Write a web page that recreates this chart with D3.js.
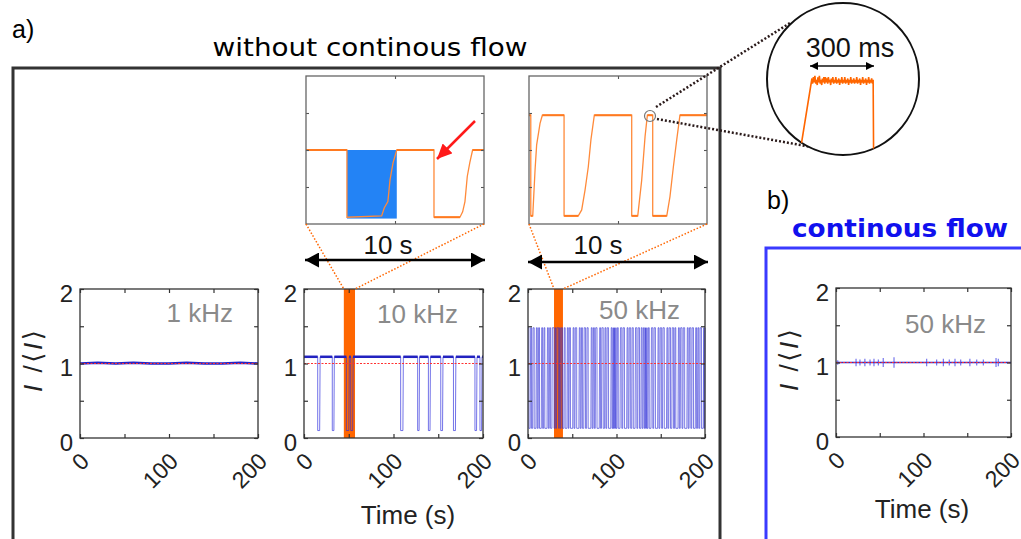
<!DOCTYPE html>
<html><head><meta charset="utf-8">
<script src="https://cdn.jsdelivr.net/npm/d3@7"></script>
<style>
body{margin:0;background:#fff}
svg{display:block}
text{font-family:"Liberation Sans",Arial,sans-serif}
</style>
</head><body>
<svg id="c" width="1021" height="539"></svg>
<script>
// ---------------- data ----------------
const timeTicks = [0, 50, 100, 150, 200];
const timeLabels = [0, 100, 200];
const yTicks = [0, 0.5, 1, 1.5, 2];
const yLabels = [0, 1, 2];
const panelNames = ["1 kHz", "10 kHz", "50 kHz", "50 kHz"];
const meanLevel = [1.0];

const trace1k = [[0,1.0],[20,1.01],[40,1.0],[60,1.01],[80,1.0],[100,1.0],[120,1.01],[140,1.0],[160,1.0],[180,1.01],[200,1.0]];

const levels10 = [0.1, 1.09];
const dips10 = [[15.3,17.5],[31.6,33.4],[47.3,50.1],[52.2,54.4],[108,110.5],[127,128.6],[139,140.8],[152.8,154.8],[167,169.2],[191,192.8],[196.6,198.4]];
const band10 = [44.5, 57];

const levels50 = [0.13, 1.48];
const dips50 = [[1,2.5],[4,5.2],[7,9],[10.5,11.5],[13,15],[16.5,17.6],[19,21.5],[23,24],[25.5,27],[29.5,30.3],[31.4,32.2],[34.6,35.3],[36.4,37.2],[39,40.5],[42,44],[45.5,46.3],[48,50.5],[52,53],[55,57.5],[59,60],[61.5,63],[65,66.2],[68,71],[72.5,73.5],[75,76],[78,80.5],[82,83],[85,86.5],[88,89],[91,93.5],[95,95.8],[96.5,97.3],[98,98.8],[99.5,100.5],[102,104],[106,107],[109,111.5],[113,114],[116,117.2],[119,121],[123,124],[126,127.5],[129,130],[131.5,132.3],[133,133.8],[134.5,135.5],[137,139],[141,142],[144,146.5],[148,149],[151,152],[154,156.5],[158,159],[161,162.5],[164.5,165.5],[167,169.5],[171,172],[174,175],[177,179.5],[181,182],[184,185],[187,189],[190.5,191.5],[193,194],[196,198],[199,199.6]];
const band50 = [29.4, 39.5];

// insets: 10 s windows (time in s relative to window start, value I/<I>)
const inset10 = [[0,1.09],[2.3,1.09],[2.3,0.1],[4.25,0.12],[4.4,0.24],[4.6,0.33],[4.72,0.65],[4.89,0.9],[5.1,1.09],[7.19,1.09],[7.19,0.1],[8.65,0.1],[8.8,0.18],[8.93,0.33],[9.06,0.7],[9.2,0.9],[9.36,1.09],[10,1.09]];
const highlight10 = [2.3, 5.1];
const inset50 = [[0,1.47],[0.1,1.47],[0.1,0.11],[0.21,0.11],[0.34,0.73],[0.43,1.07],[0.62,1.36],[0.75,1.47],[1.97,1.47],[1.97,0.11],[2.77,0.11],[2.96,0.19],[3.15,0.46],[3.33,0.77],[3.48,1.14],[3.67,1.47],[5.77,1.47],[5.77,0.11],[6.11,0.11],[6.33,0.59],[6.52,1.18],[6.65,1.47],[6.95,1.47],[6.95,0.11],[7.74,0.11],[7.92,0.37],[8.11,0.77],[8.3,1.14],[8.48,1.47],[10,1.47]];
const insetMax = [2.18, 2.0];

// continuous flow: small spikes (time s, amplitude)
const spikesB = [[2,0.03],[22.9,0.05],[27.4,0.04],[33,0.05],[38.9,0.04],[43.4,0.05],[48.4,0.04],[54,0.06],[66.3,0.07],[103.6,0.05],[115,0.04],[122.7,0.05],[129.5,0.04],[136,0.05],[142.5,0.04],[153,0.05],[160.8,0.04],[168.4,0.04],[182.9,0.06],[185.5,0.05]];

// magnified single pulse (ms, value)
const pulse = [[-45,1.2],[9,1.475],[12,1.455],[16,1.48],[20,1.46],[23,1.485],[27,1.455],[30,1.47],[34,1.45],[37,1.48],[41,1.46],[44,1.485],[48,1.455],[51,1.47],[55,1.45],[58,1.475],[62,1.46],[65,1.48],[69,1.455],[72,1.48],[76,1.46],[79,1.475],[83,1.455],[86,1.48],[90,1.46],[93,1.47],[97,1.45],[100,1.475],[104,1.46],[107,1.48],[111,1.455],[114,1.47],[118,1.46],[121,1.48],[125,1.455],[128,1.47],[132,1.46],[135,1.475],[139,1.45],[142,1.47],[146,1.46],[149,1.48],[153,1.455],[156,1.47],[160,1.46],[163,1.48],[167,1.455],[170,1.47],[174,1.46],[177,1.475],[181,1.45],[184,1.47],[188,1.46],[191,1.48],[195,1.455],[198,1.47],[202,1.46],[205,1.475],[209,1.455],[212,1.47],[216,1.46],[219,1.48],[223,1.455],[226,1.47],[230,1.46],[233,1.475],[237,1.45],[240,1.47],[244,1.46],[247,1.48],[251,1.455],[254,1.47],[258,1.46],[261,1.475],[265,1.45],[268,1.47],[272,1.46],[275,1.48],[279,1.455],[282,1.47],[286,1.46],[289,1.475],[293,1.455],[296,1.47],[298,1.2]];
const pulseSpan = [0, 300];

const texts = {a:"a)", b:"b)", titleA:"without continous flow", titleB:"continous flow", window:"10 s", pulse:"300 ms", xlab:"Time (s)"};

// ---------------- drawing ----------------
const svg = d3.select("#c");
const ORANGE = "#ff6600";
const defs = svg.append("defs");
function marker(id, color, len, half) {
  defs.append("marker").attr("id", id).attr("markerUnits", "userSpaceOnUse")
    .attr("markerWidth", len).attr("markerHeight", half*2)
    .attr("viewBox", `0 0 ${len} ${half*2}`).attr("refX", len).attr("refY", half)
    .attr("orient", "auto-start-reverse")
    .append("path").attr("d", `M0,0L${len},${half}L0,${half*2}Z`).attr("fill", color);
}
marker("ab", "#000", 14, 7.5);
marker("as", "#000", 8, 4);
marker("ar", "#ff1a1a", 15, 7);

// frames
svg.append("rect").attr("x", 13).attr("y", 68).attr("width", 707).attr("height", 520)
  .attr("fill", "none").attr("stroke", "#333").attr("stroke-width", 3);
svg.append("rect").attr("x", 766).attr("y", 248).attr("width", 300).attr("height", 320)
  .attr("fill", "none").attr("stroke", "#3a3aff").attr("stroke-width", 3);

svg.append("text").attr("x", 12).attr("y", 38).attr("font-size", 25).text(texts.a);
svg.append("text").attr("x", 767).attr("y", 209).attr("font-size", 25).text(texts.b);
svg.append("text").attr("x", 370).attr("y", 56).attr("text-anchor", "middle")
  .style("font-family", "'DejaVu Sans',Verdana,sans-serif").attr("font-size", 25)
  .attr("textLength", 315).attr("lengthAdjust", "spacingAndGlyphs").text(texts.titleA);
svg.append("text").attr("x", 900).attr("y", 237).attr("text-anchor", "middle")
  .style("font-family", "'DejaVu Sans',Verdana,sans-serif").attr("font-weight", "bold")
  .attr("font-size", 25).attr("fill", "#1010ee")
  .attr("textLength", 216).attr("lengthAdjust", "spacingAndGlyphs").text(texts.titleB);

const panels = [
  {x:80, y:289, w:178, h:149},
  {x:304, y:289, w:179, h:149},
  {x:528, y:289, w:177, h:149},
  {x:836, y:288, w:175, h:149}
];
const nameY = [322, 323, 319, 333];

function dipTrace(dips, lv) {
  const [lo, hi] = lv;
  const pts = [[0, hi]];
  dips.forEach(([s, e]) => { pts.push([s, hi], [s, lo], [e, lo], [e + 0.5, hi]); });
  pts.push([200, hi]);
  return pts;
}

panels.forEach((p, i) => {
  const g = svg.append("g").attr("transform", `translate(${p.x},${p.y})`);
  const x = d3.scaleLinear().domain([0, 200]).range([0, p.w]);
  const y = d3.scaleLinear().domain([0, 2]).range([p.h, 0]);
  const line = d3.line().x(d => x(d[0])).y(d => y(d[1]));

  const band = i === 1 ? band10 : i === 2 ? band50 : null;
  if (band) {
    g.append("rect").attr("x", x(band[0])).attr("y", 0)
      .attr("width", x(band[1]) - x(band[0])).attr("height", p.h).attr("fill", ORANGE);
  }
  if (i === 0) {
    g.append("path").datum(trace1k).attr("d", line).attr("fill", "none")
      .attr("stroke", "#2424c8").attr("stroke-width", 2.5);
  } else if (i === 1) {
    g.append("path").datum(dipTrace(dips10, levels10)).attr("d", line).attr("fill", "none")
      .attr("stroke", "rgba(40,40,220,0.65)").attr("stroke-width", 1);
    const highs = [];
    let prev = 0;
    dips10.forEach(([s, e]) => { highs.push([prev, s]); prev = e + 0.5; });
    highs.push([prev, 200]);
    g.selectAll(".hi").data(highs).join("line")
      .attr("x1", d => x(d[0])).attr("x2", d => x(d[1]))
      .attr("y1", y(levels10[1])).attr("y2", y(levels10[1]))
      .attr("stroke", "#2222c0").attr("stroke-width", 2.5);
  } else if (i === 2) {
    g.append("path").datum(dipTrace(dips50, levels50)).attr("d", line).attr("fill", "none")
      .attr("stroke", "rgba(45,45,215,0.62)").attr("stroke-width", 1);
  } else {
    g.append("line").attr("x1", x(0)).attr("x2", x(200)).attr("y1", y(1)).attr("y2", y(1))
      .attr("stroke", "#2a2ad0").attr("stroke-width", 1.6);
    g.selectAll(".sp").data(spikesB).join("line")
      .attr("x1", d => x(d[0])).attr("x2", d => x(d[0]))
      .attr("y1", d => y(1 - d[1])).attr("y2", d => y(1 + d[1]))
      .attr("stroke", "rgba(60,60,230,0.7)").attr("stroke-width", 1.2);
  }
  g.selectAll(".mean").data(meanLevel).join("line")
    .attr("x1", 0).attr("x2", p.w).attr("y1", d => y(d)).attr("y2", d => y(d))
    .attr("stroke", "#ff3030").attr("stroke-width", 1).attr("stroke-dasharray", "2,1.5");

  const axStyle = s => s.call(a => a.select(".domain").remove())
    .selectAll("line").attr("stroke", "#333").attr("stroke-width", 1.2);
  g.append("g").attr("transform", `translate(0,${p.h})`)
    .call(d3.axisBottom(x).tickValues(timeTicks).tickSize(-4).tickFormat("")).call(axStyle);
  g.append("g").call(d3.axisTop(x).tickValues(timeTicks).tickSize(-4).tickFormat("")).call(axStyle);
  g.append("g").call(d3.axisLeft(y).tickValues(yTicks).tickSize(-4).tickFormat("")).call(axStyle);
  g.append("g").attr("transform", `translate(${p.w},0)`)
    .call(d3.axisRight(y).tickValues(yTicks).tickSize(-4).tickFormat("")).call(axStyle);
  g.append("rect").attr("width", p.w).attr("height", p.h).attr("fill", "none")
    .attr("stroke", "#333").attr("stroke-width", 1.3);

  g.selectAll(".yl").data(yLabels).join("text")
    .attr("x", -7).attr("y", d => y(d) + 4).attr("text-anchor", "end")
    .attr("dominant-baseline", "central").attr("font-size", 24).attr("fill", "#222").text(d => d);
  g.selectAll(".xl").data(timeLabels).join("text")
    .attr("transform", d => `translate(${x(d) + 5},${p.h + 19}) rotate(-45)`)
    .attr("text-anchor", "end").attr("dominant-baseline", "central")
    .attr("font-size", 23).attr("fill", "#222").text(d => d);

  svg.append("text").attr("x", p.x + p.w - 25).attr("y", nameY[i]).attr("text-anchor", "end")
    .attr("font-size", 26).attr("fill", "#8a8a8a").text(panelNames[i]);

  if (i === 0 || i === 3) {
    const t = svg.append("text").attr("transform", `translate(${p.x - 47},${p.y + 72}) rotate(-90)`)
      .attr("text-anchor", "middle").attr("dominant-baseline", "central")
      .attr("font-size", 26).attr("fill", "#222")
      .attr("textLength", 62).attr("lengthAdjust", "spacing");
    t.append("tspan").attr("font-style", "italic").text("I");
    t.append("tspan").text(" /");
    t.append("tspan").style("font-family", "'DejaVu Sans',sans-serif").text("⟨");
    t.append("tspan").attr("font-style", "italic").text("I");
    t.append("tspan").style("font-family", "'DejaVu Sans',sans-serif").text("⟩");
  }
});

svg.append("text").attr("x", 408).attr("y", 524).attr("text-anchor", "middle")
  .attr("font-size", 26).attr("fill", "#222").text(texts.xlab);
svg.append("text").attr("x", 922).attr("y", 518).attr("text-anchor", "middle")
  .attr("font-size", 26).attr("fill", "#222").text(texts.xlab);

const insets = [
  {x:306, y:76, w:178, h:148, data:inset10, band:band10, main:panels[1]},
  {x:529, y:76, w:178, h:148, data:inset50, band:band50, main:panels[2]}
];
insets.forEach((p, i) => {
  const g = svg.append("g").attr("transform", `translate(${p.x},${p.y})`);
  const x = d3.scaleLinear().domain([0, 10]).range([0, p.w]);
  const y = d3.scaleLinear().domain([0, insetMax[i]]).range([p.h, 0]);
  const line = d3.line().x(d => x(d[0])).y(d => y(d[1]));
  if (i === 0) {
    g.append("rect").attr("x", x(highlight10[0])).attr("y", y(inset10[0][1]))
      .attr("width", x(highlight10[1]) - x(highlight10[0]))
      .attr("height", y(0.08) - y(inset10[0][1])).attr("fill", "#2383f5");
  }
  g.append("path").datum(p.data).attr("d", line).attr("fill", "none")
    .attr("stroke", "#ff8a3a").attr("stroke-width", 1.3);
  const tops = [];
  for (let k = 0; k < p.data.length - 1; k++) {
    if (p.data[k][1] === p.data[k + 1][1]) tops.push([p.data[k], p.data[k + 1]]);
  }
  g.selectAll(".top").data(tops).join("line")
    .attr("x1", d => x(d[0][0])).attr("x2", d => x(d[1][0]))
    .attr("y1", d => y(d[0][1])).attr("y2", d => y(d[1][1]))
    .attr("stroke", "#ff7a20").attr("stroke-width", 2);
  const yt = [0.25, 0.5, 0.75].map(f => f * insetMax[i]);
  const axStyle = s => s.call(a => a.select(".domain").remove())
    .selectAll("line").attr("stroke", "#555").attr("stroke-width", 1.1);
  g.append("g").attr("transform", `translate(0,${p.h})`)
    .call(d3.axisBottom(x).tickValues([5]).tickSize(-3).tickFormat("")).call(axStyle);
  g.append("g").call(d3.axisTop(x).tickValues([5]).tickSize(-3).tickFormat("")).call(axStyle);
  g.append("g").call(d3.axisLeft(y).tickValues(yt).tickSize(-3).tickFormat("")).call(axStyle);
  g.append("g").attr("transform", `translate(${p.w},0)`)
    .call(d3.axisRight(y).tickValues(yt).tickSize(-3).tickFormat("")).call(axStyle);
  g.append("rect").attr("width", p.w).attr("height", p.h).attr("fill", "none")
    .attr("stroke", "#666").attr("stroke-width", 1.3);

  const mx = d3.scaleLinear().domain([0, 200]).range([p.main.x, p.main.x + p.main.w]);
  [[0, p.band[0]], [p.w, p.band[1]]].forEach(([dx, t]) => {
    svg.append("line").attr("x1", p.x + dx).attr("y1", p.y + p.h)
      .attr("x2", mx(t)).attr("y2", p.main.y)
      .attr("stroke", ORANGE).attr("stroke-width", 1.5).attr("stroke-dasharray", "1.5,1.8");
  });
  const ay = i === 0 ? 260 : 262;
  svg.append("line").attr("x1", p.x - 1).attr("x2", p.x + p.w + 1).attr("y1", ay).attr("y2", ay)
    .attr("stroke", "#000").attr("stroke-width", 2.5)
    .attr("marker-start", "url(#ab)").attr("marker-end", "url(#ab)");
  svg.append("text").attr("x", i === 0 ? 388 : 598).attr("y", 254).attr("text-anchor", "middle")
    .attr("font-size", 26).attr("fill", "#111").text(texts.window);
});

svg.append("line").attr("x1", 475).attr("y1", 121).attr("x2", 437).attr("y2", 159)
  .attr("stroke", "#ff1a1a").attr("stroke-width", 2.5).attr("marker-end", "url(#ar)");

const cx = 843, cy = 79, cr = 76;
const smallC = {x:650, y:116, r:5.5};
svg.append("circle").attr("cx", smallC.x).attr("cy", smallC.y).attr("r", smallC.r)
  .attr("fill", "none").attr("stroke", "#777").attr("stroke-width", 1.2);
[[656, 107, 790, 23], [657, 119, 839, 152]].forEach(d => {
  svg.append("line").attr("x1", d[0]).attr("y1", d[1]).attr("x2", d[2]).attr("y2", d[3])
    .attr("stroke", "#2a1a1a").attr("stroke-width", 2.5).attr("stroke-dasharray", "2,2");
});
defs.append("clipPath").attr("id", "cc").append("circle").attr("cx", cx).attr("cy", cy).attr("r", cr);
svg.append("circle").attr("cx", cx).attr("cy", cy).attr("r", cr)
  .attr("fill", "#fff").attr("stroke", "#111").attr("stroke-width", 2);
const px = d3.scaleLinear().domain(pulseSpan).range([810, 874]);
const py = d3.scaleLinear().domain([1.2, 1.5]).range([150, 72]);
svg.append("path").datum(pulse).attr("clip-path", "url(#cc)")
  .attr("d", d3.line().x(d => px(d[0])).y(d => py(d[1])))
  .attr("fill", "none").attr("stroke", ORANGE).attr("stroke-width", 1.6);
svg.append("line").attr("x1", px(pulseSpan[0])).attr("x2", px(pulseSpan[1])).attr("y1", 66).attr("y2", 66)
  .attr("stroke", "#111").attr("stroke-width", 1.5)
  .attr("marker-start", "url(#as)").attr("marker-end", "url(#as)");
svg.append("text").attr("x", 850).attr("y", 57).attr("text-anchor", "middle")
  .attr("font-size", 27).attr("fill", "#111").text(texts.pulse);
</script>
</body></html>
